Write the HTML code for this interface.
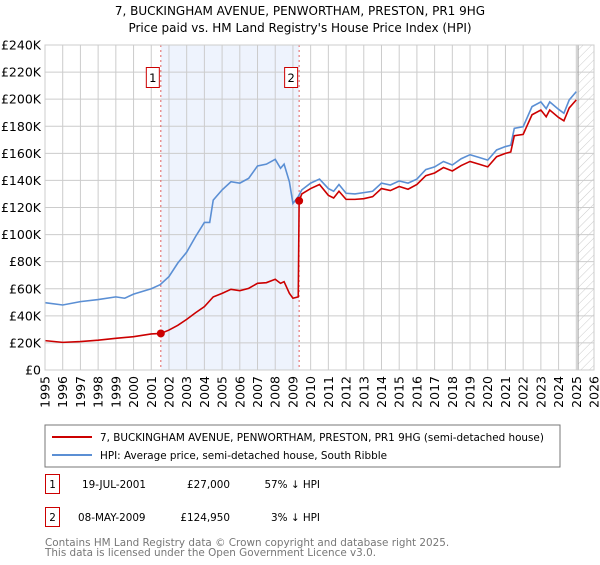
<!DOCTYPE html>
<html><head><meta charset="utf-8"><style>
body{margin:0;background:#fff;font-family:"Liberation Sans","DejaVu Sans",sans-serif}
svg text{font-family:"DejaVu Sans","Liberation Sans",sans-serif}
</style></head><body>
<svg id="c" width="600" height="560" xmlns="http://www.w3.org/2000/svg">
<defs><pattern id="hatch" width="6" height="6" patternUnits="userSpaceOnUse" patternTransform="rotate(45)"><line x1="0" y1="0" x2="0" y2="6" stroke="#ccc" stroke-width="1"/></pattern></defs>
<text x="300" y="15" text-anchor="middle" font-size="12">7, BUCKINGHAM AVENUE, PENWORTHAM, PRESTON, PR1 9HG</text>
<text x="300" y="32" text-anchor="middle" font-size="12">Price paid vs. HM Land Registry's House Price Index (HPI)</text>
<g id="plot"></g>
<rect x="45" y="425" width="515" height="42" fill="#fff" stroke="#777"/>
<line x1="52" y1="437" x2="92" y2="437" stroke="#cc0000" stroke-width="2"/>
<text x="100" y="441" font-size="10.4">7, BUCKINGHAM AVENUE, PENWORTHAM, PRESTON, PR1 9HG (semi-detached house)</text>
<line x1="52" y1="455" x2="92" y2="455" stroke="#5b8fd4" stroke-width="2"/>
<text x="100" y="459" font-size="10.4">HPI: Average price, semi-detached house, South Ribble</text>
<g font-size="10.4">
<rect x="45.5" y="474.5" width="14" height="19" fill="#fff" stroke="#cc0000"/>
<text x="52.5" y="488" text-anchor="middle">1</text>
<text x="82" y="488">19-JUL-2001</text>
<text x="230" y="488" text-anchor="end">£27,000</text>
<text x="320" y="488" text-anchor="end">57% ↓ HPI</text>
<rect x="45.5" y="507.5" width="14" height="19" fill="#fff" stroke="#cc0000"/>
<text x="52.5" y="521" text-anchor="middle">2</text>
<text x="78" y="521">08-MAY-2009</text>
<text x="230" y="521" text-anchor="end">£124,950</text>
<text x="320" y="521" text-anchor="end">3% ↓ HPI</text>
</g>
<text x="45" y="546" font-size="10.4" fill="#777">Contains HM Land Registry data © Crown copyright and database right 2025.</text>
<text x="45" y="556" font-size="10.4" fill="#777">This data is licensed under the Open Government Licence v3.0.</text>
</svg>
<script>
const yTicks=[0,20,40,60,80,100,120,140,160,180,200,220,240];
const years=[1995,1996,1997,1998,1999,2000,2001,2002,2003,2004,2005,2006,2007,2008,2009,2010,2011,2012,2013,2014,2015,2016,2017,2018,2019,2020,2021,2022,2023,2024,2025,2026];
const hpiT=[1995,1996,1997,1998,1999,1999.5,2000,2001,2001.5,2002,2002.5,2003,2003.5,2004,2004.3,2004.5,2005,2005.5,2006,2006.5,2007,2007.5,2008,2008.3,2008.5,2008.8,2009.0,2009.3,2009.5,2010,2010.5,2011,2011.3,2011.6,2012,2012.5,2013,2013.5,2014,2014.5,2015,2015.5,2016,2016.5,2017,2017.5,2018,2018.5,2019,2019.5,2020,2020.5,2021,2021.3,2021.5,2022,2022.5,2023,2023.3,2023.5,2024,2024.3,2024.6,2025];
const hpiV=[49.7,48,50.5,52,54,53,56,60,63,69,79,87,98.5,109,109,125.5,133,139,138,141.5,150.7,152,155.6,149,152,139,123,128,133,138,141,134,132,137,130.5,130,131,132,138,136.6,139.6,138,141,148,150,154,151.4,156,159,157,155,162.5,165,166,178.5,179.7,194.5,198,193,198,192.5,189.6,199.4,205.6];
const redT=[1995,1996,1997,1998,1999,2000,2001,2001.54,2002,2002.5,2003,2003.5,2004,2004.5,2005,2005.5,2006,2006.5,2007,2007.5,2008,2008.3,2008.5,2008.8,2009.0,2009.3,2009.35,2009.5,2010,2010.5,2011,2011.3,2011.6,2012,2012.5,2013,2013.5,2014,2014.5,2015,2015.5,2016,2016.5,2017,2017.5,2018,2018.5,2019,2019.5,2020,2020.5,2021,2021.3,2021.5,2022,2022.5,2023,2023.3,2023.5,2024,2024.3,2024.6,2025];
const redV=[21.7,20.4,21,22,23.4,24.6,26.6,27,29.5,33,37.4,42.3,46.8,54,56.6,59.6,58.6,60.3,64,64.5,67,64,65.2,56.6,53,54,124.95,130,134,137,129,127,132,126,126,126.5,128,134,132.5,135.5,133.5,137,143.5,145.5,149.5,147,151,154,152,150,157.5,160,161,173,174,188.5,192,187,192,186.5,184,193.5,199.5];
const saleT=[2001.54,2009.35];
const saleV=[27,124.95];
const ns="http://www.w3.org/2000/svg";
const L=45,R=594,T=45,B=370;
const X=t=>L+(t-1995)/31*(R-L);
const Y=v=>B-v/240*(B-T);
const g=document.getElementById('plot');
function mk(tag,a){const e=document.createElementNS(ns,tag);for(const k in a)e.setAttribute(k,a[k]);g.appendChild(e);return e;}
let e;
e=mk('rect',{x:X(saleT[0]),y:T,width:X(saleT[1])-X(saleT[0]),height:B-T,fill:'#eef3fd'});


e=mk('rect',{x:X(2025.1),y:T,width:R-X(2025.1),height:B-T,fill:'url(#hatch)'});


yTicks.forEach(v=>{
 e=mk('line',{x1:L,x2:R,y1:Y(v),y2:Y(v),stroke:'#ccc'});
 
 
 e=mk('text',{x:L-4,y:Y(v)+4.5,'text-anchor':'end','font-size':'12.5'});e.textContent='£'+(v?v+'K':'0');
 
 
});
years.forEach(yr=>{
 e=mk('line',{x1:X(yr),x2:X(yr),y1:T,y2:B,stroke:'#ccc'});
 
 
 e=mk('text',{x:0,y:0,'text-anchor':'end','font-size':'12.5',transform:`translate(${X(yr)+4.5},376) rotate(-90)`});e.textContent=yr;
 
 
});
e=mk('line',{x1:X(2025.1),x2:X(2025.1),y1:T,y2:B,stroke:'#999'});


saleT.forEach((t,i)=>{
 e=mk('line',{x1:X(t),x2:X(t),y1:T,y2:B,stroke:'#e06060','stroke-dasharray':'2,3'});
 
 
 e=mk('rect',{x:X(t)-14.5,y:67.5,width:13,height:20,fill:'#fff',stroke:'#cc0000'});
 
 
 e=mk('text',{x:X(t)-8,y:82,'text-anchor':'middle','font-size':'11.5'});e.textContent=i+1;
 
 
});
e=mk('polyline',{points:hpiT.map((t,i)=>X(t)+','+Y(hpiV[i])).join(' '),fill:'none',stroke:'#5b8fd4','stroke-width':1.6});


e=mk('polyline',{points:redT.map((t,i)=>X(t)+','+Y(redV[i])).join(' '),fill:'none',stroke:'#cc0000','stroke-width':1.6});


saleT.forEach((t,i)=>{
 e=mk('circle',{cx:X(t),cy:Y(saleV[i]),r:4,fill:'#cc0000'});
 
 
});
e=mk('rect',{x:L,y:T,width:R-L,height:B-T,fill:'none',stroke:'#ccc'});


</script>
</body></html>
